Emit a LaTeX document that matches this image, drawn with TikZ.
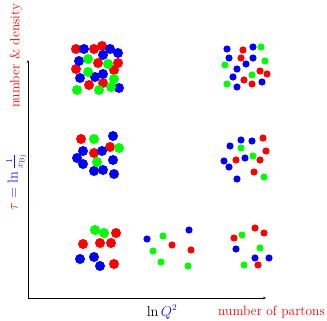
\documentclass[tikz,border=0pt]{standalone}
\usetikzlibrary{arrows.meta}
\definecolor{dred}{RGB}{255,0,0}
\definecolor{dgreen}{RGB}{0,255,0}
\definecolor{dblue}{RGB}{0,0,255}
\definecolor{tred}{RGB}{255,0,0}
\definecolor{tblue}{RGB}{20,20,255}
\begin{document}
\begin{tikzpicture}[x=1pt,y=-1pt,
  axis/.style={line width=0.9pt,-{Stealth[length=3pt,width=2.5pt]}},
  lbl/.style={font=\fontsize{13.5}{16}\selectfont, inner sep=0pt}]
\useasboundingbox (0,0) rectangle (327,321);
\coordinate (O) at (28,298);
\coordinate (X) at (266,298);
\coordinate (Y) at (28,60);
\draw[axis] (O) -- (X);
\draw[axis] (O) -- (Y);
% big dots
\def\R{5pt}
\foreach \x/\y in {76/49,94/49,102/46,98/63,118/63,76/69,114/70,103/83,89/85,
  81/139,110/147,94/153,
  116/233,83/244,100/243,111/243,114/264}
  \fill[dred] (\x,\y) circle (\R);
\foreach \x/\y in {84/49,110/49,103/55,118/53,79/61,80/78,95/77,103/74,119/88,
  113/136,83/151,102/151,77/158,83/164,113/160,94/171,103/170,114/174,
  80/259,94/257,100/266}
  \fill[dblue] (\x,\y) circle (\R);
\foreach \x/\y in {88/59,108/64,88/72,114/79,77/90,99/90,111/87,
  94/139,119/148,97/162,
  95/230,104/233}
  \fill[dgreen] (\x,\y) circle (\R);
% small dots
\def\r{3.6pt}
\foreach \x/\y in {243/50,241/58,260/71,267/74,244/80,252/84,
  263/138,266/151,236/160,260/160,254/172,
  172/245,191/250,
  255/228,264/233,234/238,258/265}
  \fill[dred] (\x,\y) circle (\r);
\foreach \x/\y in {227/49,253/47,229/58,253/58,246/64,237/69,233/77,262/82,237/87,
  241/140,252/141,230/146,245/158,224/161,229/167,237/179,
  147/239,189/230,
  236/249,255/258,269/258}
  \fill[dblue] (\x,\y) circle (\r);
\foreach \x/\y in {261/47,225/65,265/61,252/75,227/84,
  241/148,253/156,264/177,
  163/236,153/251,161/262,188/266,
  242/235,260/248,244/265}
  \fill[dgreen] (\x,\y) circle (\r);
% labels
\node[lbl] (xl) at (162,312) {$\ln{\color{tblue}Q^2}$};
\node[lbl,text=tred] (xr) at (271.5,312) {number of partons};
\node[lbl,text=tred,rotate=90] (yt) at (16,56) {number \& density};
\node[lbl,rotate=90] (yb) at (16,182) {$\color{tred}\tau\color{tblue}=\ln\frac{1}{x_{\mathrm{Bj}}}$};
\end{tikzpicture}
\end{document}
